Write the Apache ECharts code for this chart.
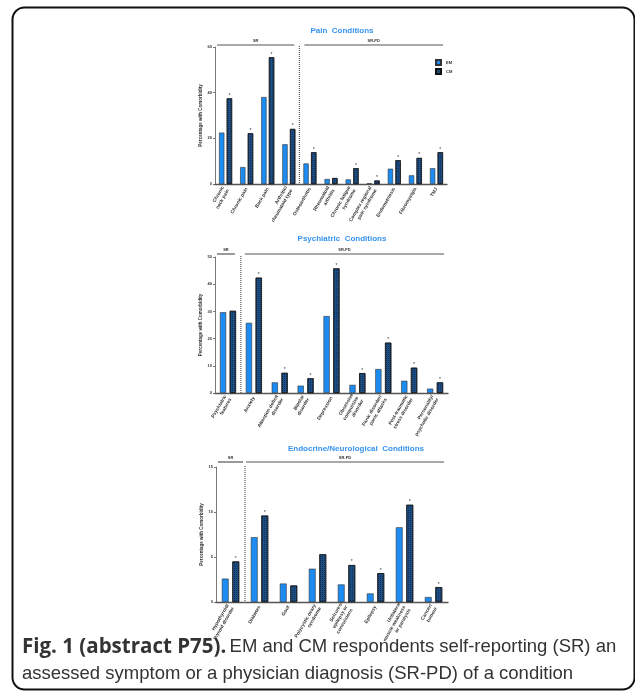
<!DOCTYPE html>
<html><head><meta charset="utf-8">
<script src="https://cdn.jsdelivr.net/npm/echarts@6/dist/echarts.min.js"></script>
<style>html,body{margin:0;padding:0;background:#fff}#c{width:635px;height:697px}</style>
</head><body><div id="c"></div>
<script>
// ---- Data ----
const painCats = ['Chronic\nneck pain','Chronic pain','Back pain','Arthritic/\nrheumatoid type','Osteoarthritis','Rheumatoid\narthritis','Chronic fatigue\nsyndrome','Complex regional\npain syndrome','Endometriosis','Fibromyalgia','TMJ'];
const painEM  = [22.5, 7.4, 38.1, 17.4, 9.0, 2.2, 2.0, 0.3, 6.7, 3.8, 6.9];
const painCM  = [37.5, 22.2, 55.5, 24.1, 13.9, 2.6, 6.9, 1.5, 10.4, 11.4, 13.9];
const painSig = [1,1,1,1,1,0,1,1,1,1,1];
const painSR = 4;

const psyCats = ['Psychiatric\nfeatures','Anxiety','Attention deficit\ndisorder','Bipolar\ndisorder','Depression','Obsessive\ncompulsive\ndisorder','Panic disorder/\npanic attacks','Post-traumatic\nstress disorder','Personality/\npsychotic disorder'];
const psyEM  = [29.7, 25.8, 3.9, 2.7, 28.3, 3.0, 8.8, 4.5, 1.6];
const psyCM  = [30.2, 42.4, 7.4, 5.4, 45.8, 7.3, 18.5, 9.3, 3.9];
const psySig = [0,1,1,1,1,1,1,1,1];
const psySR = 1;

const endoCats = ['Hypothyroid/\nthyroid disorder','Diabetes','Gout','Polycystic ovary\nsyndrome','Seizures/\nepilepsy or\nconvulsions','Epilepsy','Unilateral\nmuscle weakness\nor paralysis','Cancer/\ntumour'];
const endoEM  = [2.6, 7.2, 2.05, 3.7, 1.95, 0.95, 8.3, 0.55];
const endoCM  = [4.5, 9.6, 1.83, 5.3, 4.1, 3.2, 10.8, 1.65];
const endoSig = [1,1,0,0,1,1,1,1];
const endoSR = 1;

const titles = ['Pain  Conditions','Psychiatric  Conditions','Endocrine/Neurological  Conditions'];
const yMax = [60, 50, 15];
const yInt = [20, 10, 5];
const groupLabels = ['SR','SR-PD'];
const legendNames = ['EM','CM'];

// ---- Layout ----
const EMc = '#1c8cf2', CMc = '#1d4f86';
const grids = [
  {left:215, top:47, width:232, height:137},
  {left:215, top:257, width:233, height:136},
  {left:216, top:467, width:232, height:135}
];
const panels = [
  {cats:painCats, em:painEM, cm:painCM, sig:painSig, sr:painSR, bw:5.3, gap:'45%'},
  {cats:psyCats, em:psyEM, cm:psyCM, sig:psySig, sr:psySR, bw:6.2, gap:'58%'},
  {cats:endoCats, em:endoEM, cm:endoCM, sig:endoSig, sr:endoSR, bw:6.8, gap:'55%'}
];
const titleY = [27, 235, 445];
const titleX = [337, 337, 351];

const chart = echarts.init(document.getElementById('c'), null, {renderer:'canvas'});
const xAxis = [], yAxis = [], series = [];
panels.forEach((p, i) => {
  xAxis.push({
    type:'category', gridIndex:i, data:p.cats,
    axisLine:{lineStyle:{color:'#555', width:1.3}},
    axisTick:{show:false},
    axisLabel:{interval:0, rotate:60, fontSize:4.8, lineHeight:6, color:'#333', fontWeight:'bold', margin:4, fontFamily:'Liberation Sans'}
  });
  yAxis.push({
    type:'value', gridIndex:i, min:0, max:yMax[i], interval:yInt[i],
    name:'Percentage with Comorbidity', nameLocation:'middle', nameGap:12,
    nameTextStyle:{fontSize:4.5, fontWeight:'bold', color:'#333', fontFamily:'Liberation Sans'},
    axisLine:{show:true, lineStyle:{color:'#555', width:0.8}},
    axisTick:{show:true, length:2, lineStyle:{color:'#555', width:0.8}},
    axisLabel:{fontSize:4, color:'#333', margin:3, fontWeight:'bold', fontFamily:'Liberation Sans'},
    splitLine:{show:false}
  });
  series.push({
    name:'EM', type:'bar', xAxisIndex:i, yAxisIndex:i, data:p.em,
    barWidth:p.bw, barGap:p.gap,
    itemStyle:{color:EMc, borderColor:'#333', borderWidth:0.6}
  });
  series.push({
    name:'CM', type:'bar', xAxisIndex:i, yAxisIndex:i, data:p.cm,
    barWidth:p.bw, barGap:p.gap,
    itemStyle:{color:CMc, borderColor:'#111', borderWidth:0.6,
      decal:{symbol:'rect', symbolSize:1, dashArrayX:[1,1], dashArrayY:[1,1], color:'rgba(0,0,0,0.4)', rotation:0}},
    label:{show:true, position:'top', distance:0.5, fontSize:5, color:'#333',
      formatter:(q)=> p.sig[q.dataIndex] ? '*' : ''}
  });
});

chart.setOption({
  animation:false,
  backgroundColor:'#fff',
  grid:grids,
  xAxis, yAxis, series,
  legend:{data:legendNames.map(n=>({name:n, icon:'rect'})), orient:'vertical', left:430, top:54, itemWidth:5, itemHeight:5, itemGap:2,
    textStyle:{fontSize:4, fontWeight:'bold', color:'#333', fontFamily:'Liberation Sans'}},
  title: titles.map((t,i)=>({text:t, left:titleX[i], top:titleY[i]-5, textAlign:'center',
    textStyle:{fontSize:8, fontWeight:'bold', color:'#3594f0', fontFamily:'Liberation Sans'}}))
});

// ---- annotations derived from axes ----
const g = [];
const bracketDy = [-2, -3, -5];
const sepPad = [[-5,5],[-6,4],[-2,1]];
panels.forEach((p,i)=>{
  const px = k => chart.convertToPixel({xAxisIndex:i}, k);
  const sepX = (px(p.sr-1) + px(p.sr)) / 2;
  const gr = grids[i];
  const y = gr.top + bracketDy[i];
  const x0 = gr.left + 2, x1 = gr.left + gr.width - 4;
  const bottom = gr.top + gr.height;
  g.push({type:'line', shape:{x1:sepX, y1:gr.top-1, x2:sepX, y2:bottom}, style:{stroke:'#333', lineWidth:1, lineDash:[1,1]}});
  g.push({type:'line', shape:{x1:x0, y1:y, x2:sepX+sepPad[i][0], y2:y}, style:{stroke:'#555', lineWidth:1.2}});
  g.push({type:'line', shape:{x1:sepX+sepPad[i][1], y1:y, x2:x1, y2:y}, style:{stroke:'#555', lineWidth:1.2}});
  g.push({type:'text', x:(x0+sepX+sepPad[i][0])/2, y:y-4, style:{text:groupLabels[0], fontSize:4, fontWeight:'bold', fill:'#333', align:'center', verticalAlign:'middle', fontFamily:'Liberation Sans'}});
  g.push({type:'text', x:(sepX+sepPad[i][1]+x1)/2, y:y-4, style:{text:groupLabels[1], fontSize:4, fontWeight:'bold', fill:'#333', align:'center', verticalAlign:'middle', fontFamily:'Liberation Sans'}});
});
// frame
g.push({type:'rect', shape:{x:12.5, y:7.5, width:622, height:682, r:12}, style:{fill:'none', stroke:'#111', lineWidth:2}});
// caption
g.push({type:'text', x:22, y:647, style:{
  text:'{b|Fig. 1 (abstract P75).} {n|EM and CM respondents self-reporting (SR) an}',
  verticalAlign:'middle',
  rich:{b:{fontSize:20.5, fontWeight:'bold', fill:'#333', fontFamily:'Open Sans'},
        n:{fontSize:18.5, fill:'#333', fontFamily:'Liberation Sans'}}}});
g.push({type:'text', x:22, y:674, style:{text:'assessed symptom or a physician diagnosis (SR-PD) of a condition',
  fontSize:18.5, fill:'#333', fontFamily:'Liberation Sans', verticalAlign:'middle'}});
chart.setOption({graphic:g});
</script></body></html>
